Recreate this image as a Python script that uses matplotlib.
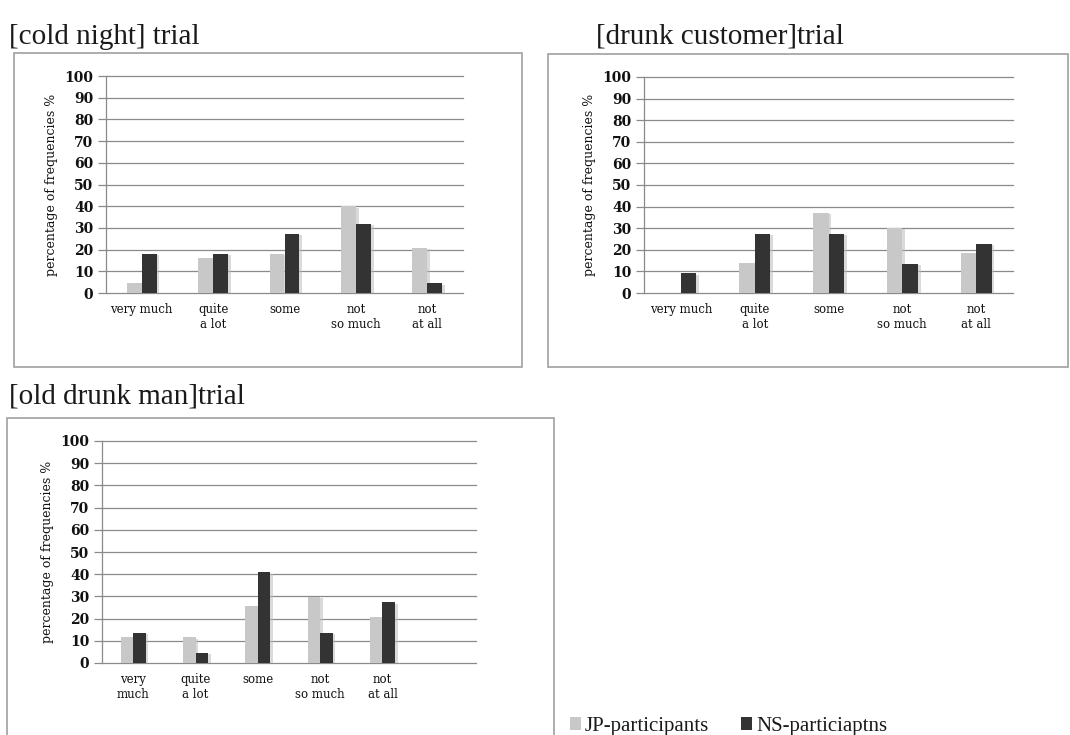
import matplotlib
matplotlib.use("Agg")
import matplotlib.pyplot as plt
import matplotlib.patheffects as pe
from matplotlib.patches import Rectangle
import numpy as np

# ---- data ----
categories_a = ["very much", "quite\na lot", "some", "not\nso much", "not\nat all"]
categories_c = ["very\nmuch", "quite\na lot", "some", "not\nso much", "not\nat all", ""]

cold_jp = [4.5, 16.3, 18.2, 40.0, 20.9]
cold_ns = [18.2, 18.2, 27.3, 31.8, 4.5]

drunk_jp = [0.0, 14.0, 37.2, 30.2, 18.6]
drunk_ns = [9.1, 27.3, 27.3, 13.6, 22.7]

old_jp = [11.5, 11.5, 25.6, 29.9, 20.7, 0.0]
old_ns = [13.6, 4.5, 40.9, 13.6, 27.3, 0.0]

titles = ["[cold night] trial", "[drunk customer]trial", "[old drunk man]trial"]
series_names = ["JP-participants", "NS-particiaptns"]
yticks = [0, 10, 20, 30, 40, 50, 60, 70, 80, 90, 100]
ylabel = "percentage of frequencies %"

JP_COLOR = "#c8c8c8"
NS_COLOR = "#333333"
GRID = "#8a8a8a"
AXFONT = "DejaVu Serif"
TFONT = "Liberation Serif"

W, H = 1070, 735
fig = plt.figure(figsize=(W / 100, H / 100), dpi=100)
fig.patch.set_facecolor("white")


def px_axes(l, t, r, b):
    return fig.add_axes([l / W, 1 - b / H, (r - l) / W, (b - t) / H])


def box(l, t, r, b):
    fig.patches.append(Rectangle((l / W, 1 - b / H), (r - l) / W, (b - t) / H,
                                 transform=fig.transFigure, fill=False,
                                 edgecolor="#a0a0a0", linewidth=1.2))


def draw(ax, cats, jp, ns, width):
    x = np.arange(len(cats))
    shadow = [pe.SimplePatchShadow(offset=(2, -1), shadow_rgbFace="#bdbdbd", alpha=0.55), pe.Normal()]
    b1 = ax.bar(x - width / 2, jp, width, color=JP_COLOR, zorder=3)
    b2 = ax.bar(x + width / 2, ns, width, color=NS_COLOR, zorder=3)
    for p in list(b1) + list(b2):
        p.set_path_effects(shadow)
    ax.set_xlim(-0.5, len(cats) - 0.5)
    ax.set_ylim(0, 100)
    ax.set_yticks(yticks)
    ax.set_yticklabels([str(v) for v in yticks], fontfamily=AXFONT,
                       fontweight="bold", fontsize=10, color="#111111")
    ax.set_xticks(x)
    ax.set_xticklabels(cats, fontfamily=AXFONT, fontsize=8.5, linespacing=1.2, color="#111111")
    ax.tick_params(axis="x", length=0, pad=7)
    ax.tick_params(axis="y", length=6, color=GRID, width=0.9, pad=3)
    ax.yaxis.grid(True, color=GRID, linewidth=0.9, zorder=0)
    for gl in ax.get_ygridlines():
        gl.set_clip_on(False)
    ax.set_axisbelow(True)
    for s in ["top", "right", "bottom"]:
        ax.spines[s].set_visible(False)
    ax.spines["left"].set_color(GRID)
    ax.spines["left"].set_linewidth(0.9)
    ax.set_ylabel(ylabel, fontfamily=AXFONT, fontsize=9, labelpad=5, color="#111111")
    ax.set_facecolor("none")


# boxes
box(14, 53, 522, 367)
box(548, 54, 1068, 367)
box(7, 418, 554, 740)

ax1 = px_axes(106, 76, 463, 293)
draw(ax1, categories_a, cold_jp, cold_ns, 0.21)
ax2 = px_axes(644, 77, 1013, 293)
draw(ax2, categories_a, drunk_jp, drunk_ns, 0.21)
ax3 = px_axes(102, 441, 476, 663)
draw(ax3, categories_c, old_jp, old_ns, 0.20)

tfont = dict(family=TFONT, fontsize=21, color="#1a1a1a")
fig.text(9 / W, 1 - 44 / H, titles[0], ha="left", va="baseline", **tfont)
fig.text(596 / W, 1 - 44 / H, titles[1], ha="left", va="baseline", **tfont)
fig.text(9 / W, 1 - 403 / H, titles[2], ha="left", va="baseline", **tfont)

# legend
lfont = dict(family=TFONT, fontsize=15, color="#1a1a1a")
fig.patches.append(Rectangle((570 / W, 1 - 730 / H), 11 / W, 13 / H, transform=fig.transFigure,
                             facecolor=JP_COLOR, edgecolor="none"))
fig.text(585 / W, 1 - 731 / H, series_names[0], ha="left", va="baseline", **lfont)
fig.patches.append(Rectangle((741 / W, 1 - 730 / H), 11 / W, 13 / H, transform=fig.transFigure,
                             facecolor=NS_COLOR, edgecolor="none"))
fig.text(756 / W, 1 - 731 / H, series_names[1], ha="left", va="baseline", **lfont)

fig.savefig("out.png", dpi=100)
